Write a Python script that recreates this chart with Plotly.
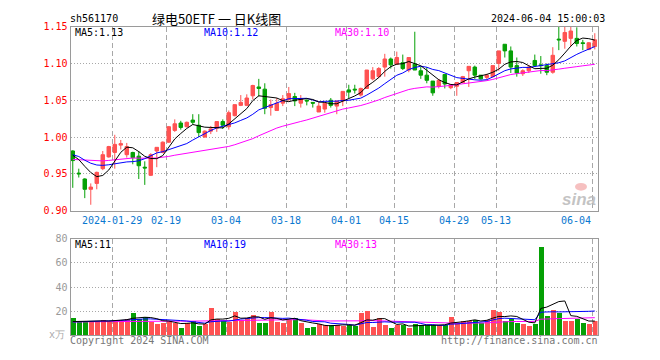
import numpy as np
import pandas as pd
import plotly.graph_objects as go

# ---------------- data ----------------
holidays = ["2024-02-09", "2024-02-12", "2024-02-13", "2024-02-14", "2024-02-15",
            "2024-02-16", "2024-04-04", "2024-04-05", "2024-05-01", "2024-05-02", "2024-05-03"]
dates = [d.strftime("%Y-%m-%d") for d in pd.bdate_range("2024-01-18", "2024-06-04")
         if d.strftime("%Y-%m-%d") not in holidays]

opens = [0.981, 0.951, 0.943, 0.929, 0.937, 0.957, 0.973, 0.979, 0.989, 0.976,
         0.979, 0.974, 0.959, 0.948, 0.981, 0.979, 0.993, 1.009, 1.019, 1.014,
         1.023, 1.016, 1.000, 1.008, 1.012, 1.021, 1.014, 1.029, 1.043, 1.043,
         1.056, 1.068, 1.065, 1.040, 1.036, 1.046, 1.051, 1.055, 1.046, 1.050,
         1.047, 1.034, 1.038, 1.050, 1.042, 1.049, 1.064, 1.065, 1.057, 1.066,
         1.079, 1.082, 1.095, 1.106, 1.099, 1.101, 1.091, 1.099, 1.090, 1.084,
         1.076, 1.069, 1.085, 1.067, 1.069, 1.074, 1.090, 1.095, 1.084, 1.081,
         1.082, 1.100, 1.126, 1.117, 1.097, 1.086, 1.090, 1.104, 1.098, 1.097,
         1.088, 1.133, 1.130, 1.134, 1.134, 1.128, 1.119, 1.123]
highs = [0.982, 0.957, 0.944, 0.937, 0.953, 0.981, 0.988, 1.003, 0.996, 0.992,
         0.980, 0.981, 0.967, 0.978, 0.986, 0.994, 1.015, 1.024, 1.022, 1.021,
         1.031, 1.031, 1.009, 1.015, 1.021, 1.024, 1.036, 1.044, 1.057, 1.058,
         1.071, 1.079, 1.073, 1.051, 1.053, 1.057, 1.068, 1.060, 1.057, 1.051,
         1.047, 1.047, 1.046, 1.053, 1.049, 1.062, 1.071, 1.071, 1.067, 1.091,
         1.095, 1.095, 1.113, 1.108, 1.116, 1.112, 1.108, 1.143, 1.096, 1.095,
         1.076, 1.079, 1.085, 1.072, 1.074, 1.083, 1.096, 1.097, 1.084, 1.086,
         1.097, 1.117, 1.126, 1.123, 1.108, 1.092, 1.098, 1.112, 1.110, 1.100,
         1.122, 1.150, 1.150, 1.150, 1.149, 1.132, 1.129, 1.141]
lows = [0.931, 0.945, 0.917, 0.908, 0.929, 0.955, 0.972, 0.957, 0.983, 0.972,
        0.963, 0.943, 0.935, 0.947, 0.959, 0.978, 0.992, 1.007, 1.010, 1.013,
        1.017, 1.000, 0.999, 1.004, 1.007, 1.011, 1.010, 1.028, 1.042, 1.042,
        1.051, 1.055, 1.031, 1.029, 1.036, 1.042, 1.049, 1.042, 1.040, 1.043,
        1.040, 1.034, 1.033, 1.040, 1.031, 1.042, 1.053, 1.059, 1.055, 1.066,
        1.077, 1.080, 1.082, 1.093, 1.098, 1.091, 1.088, 1.091, 1.079, 1.073,
        1.056, 1.066, 1.066, 1.065, 1.056, 1.074, 1.068, 1.079, 1.078, 1.078,
        1.081, 1.090, 1.108, 1.087, 1.082, 1.083, 1.087, 1.095, 1.086, 1.084,
        1.086, 1.118, 1.120, 1.123, 1.123, 1.118, 1.118, 1.119]
closes = [0.968, 0.950, 0.929, 0.932, 0.952, 0.976, 0.987, 0.990, 0.991, 0.987,
          0.972, 0.961, 0.958, 0.976, 0.986, 0.993, 1.014, 1.018, 1.013, 1.020,
          1.020, 1.006, 1.008, 1.011, 1.021, 1.016, 1.033, 1.044, 1.047, 1.053,
          1.070, 1.066, 1.039, 1.044, 1.046, 1.052, 1.059, 1.049, 1.052, 1.049,
          1.046, 1.042, 1.046, 1.043, 1.049, 1.062, 1.061, 1.064, 1.066, 1.091,
          1.090, 1.093, 1.106, 1.098, 1.108, 1.093, 1.108, 1.091, 1.084, 1.077,
          1.060, 1.077, 1.072, 1.071, 1.074, 1.082, 1.096, 1.084, 1.079, 1.084,
          1.097, 1.117, 1.117, 1.095, 1.087, 1.090, 1.095, 1.097, 1.097, 1.088,
          1.111, 1.132, 1.142, 1.144, 1.127, 1.127, 1.128, 1.132]
volumes = [14.7, 12.5, 11.2, 11.2, 11.7, 13.3, 11.7, 13.3, 12.5, 14.1,
           18.9, 13.6, 15.7, 11.2, 9.6, 10.4, 12.3, 10.4, 6.1, 10.4,
           12.5, 8.0, 9.9, 22.9, 14.1, 12.3, 11.2, 20.0, 13.3, 14.9,
           17.3, 10.9, 10.1, 20.0, 11.7, 10.9, 13.3, 14.7, 10.1, 6.1,
           6.9, 9.6, 8.5, 8.5, 9.1, 7.7, 9.1, 8.0, 18.4, 20.5,
           6.9, 14.9, 8.5, 6.1, 8.8, 9.1, 6.1, 9.3, 8.5, 9.1,
           8.5, 8.5, 9.1, 15.7, 10.4, 12.5, 12.3, 13.3, 10.9, 13.3,
           21.3, 19.7, 12.5, 13.6, 10.9, 9.6, 7.7, 9.9, 73.3, 16.5,
           21.3, 18.7, 12.5, 12.5, 13.6, 10.9, 9.6, 12.5]

# earlier sessions (estimated), used only to warm up the moving averages
pre_closes = [0.962, 0.958, 0.955, 0.960, 0.964, 0.967, 0.963, 0.960, 0.958, 0.962,
              0.966, 0.970, 0.968, 0.972, 0.975, 0.971, 0.969, 0.973, 0.976, 0.978,
              0.975, 0.979, 0.973, 0.976, 0.981, 0.979, 0.975, 0.974, 0.980]
pre_volumes = [10.8, 12.1, 9.7, 11.5, 13.2, 10.4, 9.9, 11.8, 12.6, 10.2,
               11.1, 9.5, 10.9, 12.4, 11.7, 10.6, 9.8, 11.3, 12.8, 10.1,
               11.6, 10.3, 11.9, 9.6, 10.7, 11.4, 10.2, 9.9, 10.8]

tick_dates = ["2024-01-29", "2024-02-19", "2024-03-04", "2024-03-18", "2024-04-01",
              "2024-04-15", "2024-04-29", "2024-05-13", "2024-06-04"]
tick_labels = ["2024-01-29", "02-19", "03-04", "03-18", "04-01",
               "04-15", "04-29", "05-13", "06-04"]
price_ticks = [0.90, 0.95, 1.00, 1.05, 1.10, 1.15]
vol_ticks = [20, 40, 60, 80]

price_ma_labels = ["MA5:1.13", "MA10:1.12", "MA30:1.10"]
vol_ma_labels = ["MA5:11", "MA10:19", "MA30:13"]

# ---------------- helpers ----------------
n = len(dates)
pos = np.arange(n)


def ma(pre, vals, w):
    s = pd.Series(list(pre) + list(vals)).rolling(w).mean().to_numpy()
    return s[len(pre):]


ma_c = {w: ma(pre_closes, closes, w) for w in (5, 10, 30)}
ma_v = {w: ma(pre_volumes, volumes, w) for w in (5, 10, 30)}

RED = "#ff5252"
GREEN = "#05a005"
MA_COL = {5: "#000000", 10: "#0000ff", 30: "#ff00ff"}
GRID = "#a8a8a8"
MONO = "DejaVu Sans Mono"

W, H = 660, 360
L, R = 70.5, 597.5


def fx(p):
    return p / W


def fy(p):
    return 1 - p / H


vol_colors = [RED if c >= o else GREEN for o, c in zip(opens, closes)]
grid_pos = [dates.index(d) - 0.42 for d in tick_dates]

fig = go.Figure()
fig.add_trace(go.Candlestick(
    x=pos, open=opens, high=highs, low=lows, close=closes,
    increasing=dict(line=dict(color=RED, width=1), fillcolor=RED),
    decreasing=dict(line=dict(color=GREEN, width=1), fillcolor=GREEN),
    whiskerwidth=0, xaxis="x", yaxis="y", hoverinfo="skip"))
for w in (30, 10, 5):
    fig.add_trace(go.Scatter(x=pos, y=ma_c[w], mode="lines",
                             line=dict(color=MA_COL[w], width=1),
                             xaxis="x", yaxis="y", hoverinfo="skip"))
fig.add_trace(go.Bar(x=pos, y=volumes, marker=dict(color=vol_colors, line=dict(width=0)),
                     width=0.83, xaxis="x2", yaxis="y2", hoverinfo="skip"))
for w in (30, 10, 5):
    fig.add_trace(go.Scatter(x=pos, y=ma_v[w], mode="lines",
                             line=dict(color=MA_COL[w], width=1),
                             xaxis="x2", yaxis="y2", hoverinfo="skip"))

xcommon = dict(range=[-0.38, 87.45], domain=[fx(L), fx(R)], tickvals=grid_pos,
               showticklabels=False, ticks="", showgrid=True, gridcolor=GRID,
               griddash="5px,3px", gridwidth=1, showline=True, linecolor="#9a9a9a",
               linewidth=1, mirror=True, zeroline=False, fixedrange=True)

fig.update_layout(
    width=W, height=H, margin=dict(l=0, r=0, t=0, b=0),
    paper_bgcolor="white", plot_bgcolor="white", showlegend=False,
    boxgap=0.17, bargap=0,
    xaxis=dict(anchor="y", rangeslider=dict(visible=False), **xcommon),
    xaxis2=dict(anchor="y2", matches="x", **xcommon),
    yaxis=dict(domain=[fy(211.7), fy(21.3)], range=[0.90, 1.15], tickvals=price_ticks,
               ticktext=[f"{v:.2f}" for v in price_ticks],
               tickfont=dict(family=MONO, size=10, color="#ff0000"),
               showgrid=True, gridcolor=GRID, griddash="1px,2px", ticks="",
               showline=True, linecolor="#9a9a9a", mirror=True, zeroline=False,
               anchor="x", fixedrange=True),
    yaxis2=dict(domain=[fy(340.7), fy(240.7)], range=[0, 80], tickvals=vol_ticks,
                ticktext=[str(v) for v in vol_ticks],
                tickfont=dict(family=MONO, size=10, color="#999999"),
                showgrid=True, gridcolor=GRID, griddash="1px,2px", ticks="",
                showline=True, linecolor="#9a9a9a", mirror=True, zeroline=False,
                anchor="x2", fixedrange=True),
)

ann = []


def text(x, y, t, color="#000", size=10, anchor="left", family=MONO, xref="paper"):
    ann.append(dict(x=x, y=y, xref=xref, yref="paper", text=t, showarrow=False,
                    xanchor=anchor, yanchor="middle", borderpad=0, borderwidth=0,
                    font=dict(family=family, size=size, color=color)))


# header
text(fx(70), fy(13), "sh561170")
text(fx(152), fy(13), "绿电50ETF 一 日K线图", size=13, family="Noto Sans CJK SC")
text(fx(605), fy(13), "2024-06-04 15:00:03", anchor="right")
# MA legends
for lab, xp, w in zip(price_ma_labels, (75, 204, 335), (5, 10, 30)):
    text(fx(xp), fy(27), lab, color=MA_COL[w])
for lab, xp, w in zip(vol_ma_labels, (75, 204, 335), (5, 10, 30)):
    text(fx(xp), fy(246.5), lab, color=MA_COL[w])
# date labels
for i, (gp, lab) in enumerate(zip(grid_pos, tick_labels)):
    last = i == len(tick_labels) - 1
    ann.append(dict(x=gp, y=fy(222), xref="x", yref="paper", text=lab, showarrow=False,
                    xanchor="right" if last else "center", yanchor="middle",
                    xshift=-1 if last else 0, borderpad=0, borderwidth=0,
                    font=dict(family=MONO, size=10, color="#0a78d0")))
# unit, footer, watermark
text(fx(49), fy(340), "x万", color="#aaaaaa", size=10)
text(fx(70), fy(346), "Copyright 2024 SINA.COM", color="#777777")
text(fx(597.5), fy(346), "http://finance.sina.com.cn", color="#777777", anchor="right")
text(fx(596), fy(200), "<b><i>sina</i></b>", color="rgba(185,185,185,0.85)", size=17,
     anchor="right", family="Liberation Sans")

fig.update_layout(annotations=ann, shapes=[
    dict(type="circle", xref="paper", yref="paper", x0=fx(575), x1=fx(587),
         y0=fy(191), y1=fy(183), fillcolor="rgba(240,150,150,0.6)", line=dict(width=0))])
fig.write_html("out.html", config={"displayModeBar": False},
               post_script="document.body.style.margin='0';")
